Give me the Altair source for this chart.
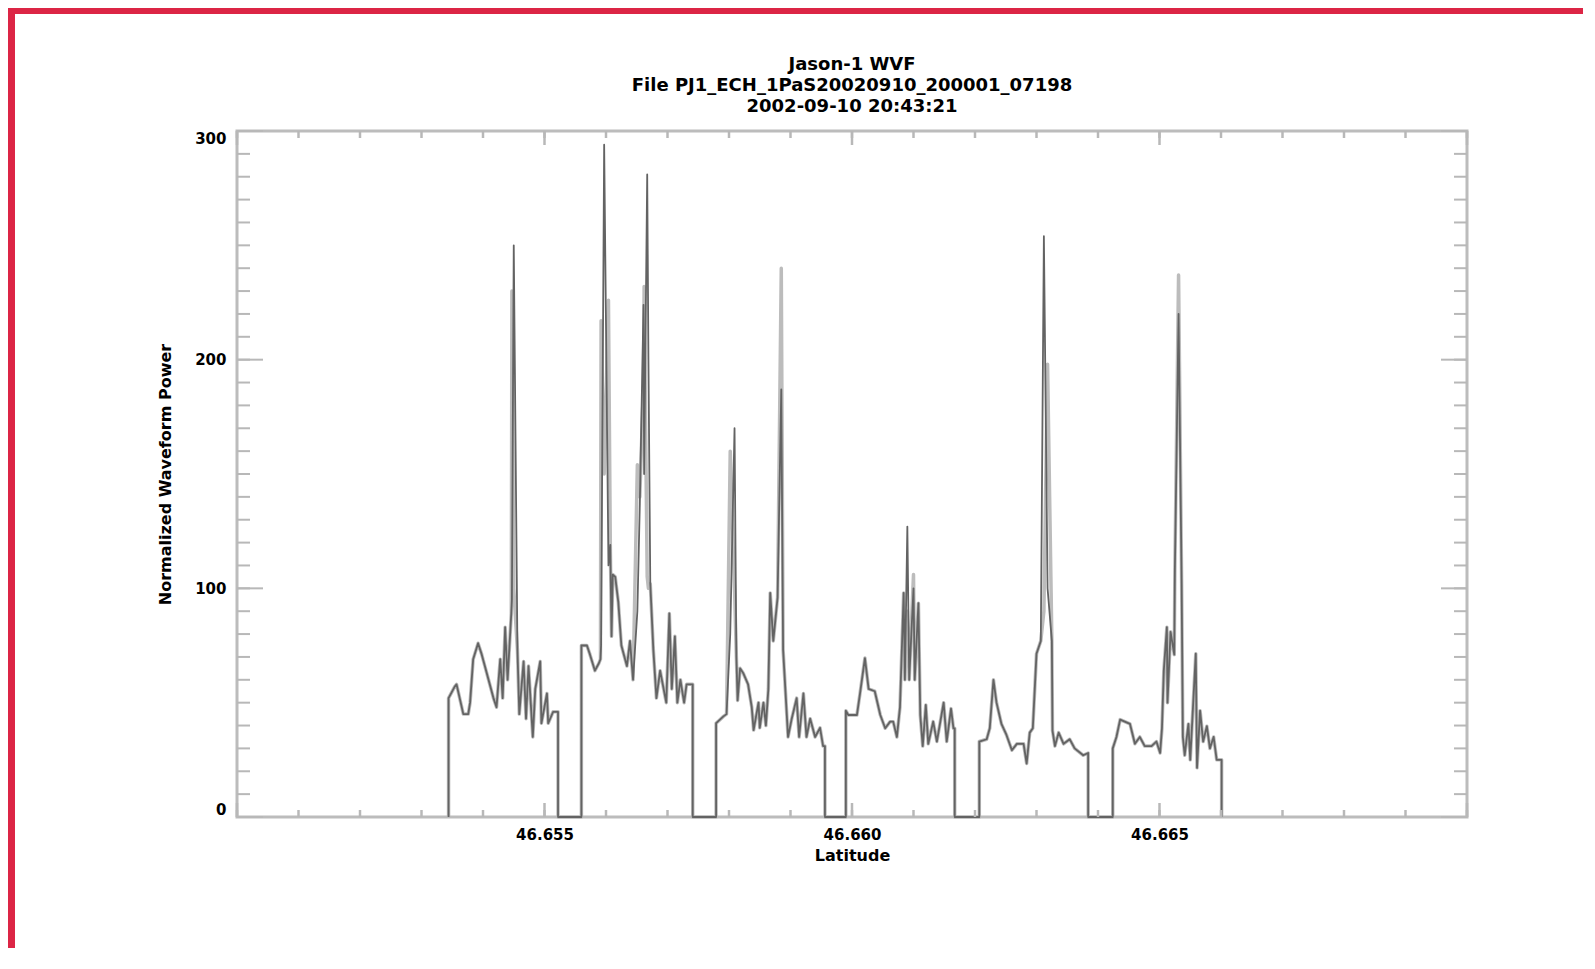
import altair as alt
import pandas as pd

# ---------------- data ----------------
seg1_lat = [46.65344, 46.65344, 46.65354, 46.65357, 46.65368, 46.65376, 46.65379, 46.65384,
            46.65392, 46.65398, 46.65403, 46.65409, 46.65417, 46.65422, 46.65428, 46.65432,
            46.65436, 46.65440, 46.65446, 46.65447, 46.65450, 46.65456, 46.65459, 46.65466,
            46.65470, 46.65474, 46.65481, 46.65485, 46.65493, 46.65495, 46.65504, 46.65506,
            46.65514, 46.65522, 46.65522]
seg1_light = [0, 52, 57, 58, 45, 45, 50, 69, 76, 71, 66, 60, 52, 48, 69, 52, 83, 60, 89, 230,
              100, 73, 45, 68, 43, 66, 35, 56, 68, 41, 54, 41, 46, 46, 0]
seg1_dark = [0, 52, 57, 58, 45, 45, 50, 69, 76, 71, 66, 60, 52, 48, 69, 52, 83, 60, 89, 95,
             250, 73, 45, 68, 43, 66, 35, 56, 68, 41, 54, 41, 46, 46, 0]

seg2_lat = [46.65560, 46.65560, 46.65569, 46.65574, 46.65582, 46.65588, 46.65591, 46.65592,
            46.65597, 46.65604, 46.65607, 46.65609, 46.65611, 46.65615, 46.65620, 46.65625,
            46.65634, 46.65639, 46.65644, 46.65651, 46.65655, 46.65661, 46.65662, 46.65667,
            46.65669, 46.65672, 46.65677, 46.65682, 46.65688, 46.65698, 46.65703, 46.65707,
            46.65712, 46.65716, 46.65721, 46.65727, 46.65731, 46.65739, 46.65741, 46.65741]
seg2_light = [0, 75, 75, 71, 64, 67, 69, 217, 150, 226, 119, 79, 106, 105, 94, 75, 66, 77, 60,
              154, 140, 190, 232, 105, 100, 102, 73, 52, 64, 50, 89, 56, 79, 50, 60, 50, 58,
              58, 58, 0]
seg2_dark = [0, 75, 75, 71, 64, 67, 69, 75, 294, 110, 119, 79, 106, 105, 94, 75, 66, 77, 60,
             90, 137, 224, 150, 281, 200, 102, 73, 52, 64, 50, 89, 56, 79, 50, 60, 50, 58,
             58, 58, 0]

seg3_lat = [46.65779, 46.65779, 46.65783, 46.65791, 46.65796, 46.65802, 46.65809, 46.65812,
            46.65814, 46.65818, 46.65823, 46.65831, 46.65837, 46.65840, 46.65848, 46.65850,
            46.65856, 46.65860, 46.65864, 46.65867, 46.65872, 46.65879, 46.65885, 46.65888,
            46.65896, 46.65902, 46.65910, 46.65914, 46.65921, 46.65926, 46.65932, 46.65940,
            46.65948, 46.65953, 46.65956, 46.65956]
seg3_light = [0, 41, 42, 44, 45, 160, 100, 70, 51, 65, 63, 58, 48, 38, 50, 39, 50, 40, 56, 98,
              77, 96, 240, 73, 35, 43, 52, 35, 54, 35, 43, 35, 39, 31, 31, 0]
seg3_dark = [0, 41, 42, 44, 45, 80, 170, 70, 51, 65, 63, 58, 48, 38, 50, 39, 50, 40, 56, 98,
             77, 96, 187, 73, 35, 43, 52, 35, 54, 35, 43, 35, 39, 31, 31, 0]

seg4_lat = [46.65990, 46.65990, 46.65994, 46.66008, 46.66013, 46.66021, 46.66027, 46.66037,
            46.66046, 46.66054, 46.66062, 46.66067, 46.66073, 46.66078, 46.66084, 46.66086,
            46.66090, 46.66093, 46.66100, 46.66102, 46.66108, 46.66111, 46.66115, 46.66120,
            46.66124, 46.66132, 46.66138, 46.66149, 46.66154, 46.66161, 46.66165, 46.66167,
            46.66167]
seg4_light = [0, 46.5, 44.6, 44.6, 54, 69.5, 56, 55, 44.6, 38.8, 41.7, 41.7, 35, 48, 98, 60,
              90, 60, 106, 60, 93.5, 44.6, 31, 49, 32, 41.7, 33, 50, 33, 47.4, 38.8, 38.8, 0]
seg4_dark = [0, 46.5, 44.6, 44.6, 54, 69.5, 56, 55, 44.6, 38.8, 41.7, 41.7, 35, 48, 98, 60,
             127, 60, 100, 60, 93.5, 44.6, 31, 49, 32, 41.7, 33, 50, 33, 47.4, 38.8, 38.8, 0]

seg5_lat = [46.66207, 46.66207, 46.66219, 46.66224, 46.66230, 46.66235, 46.66243, 46.66251,
            46.66260, 46.66268, 46.66279, 46.66284, 46.66289, 46.66294, 46.66300, 46.66307,
            46.66312, 46.66318, 46.66325, 46.66326, 46.66330, 46.66336, 46.66344, 46.66354,
            46.66362, 46.66376, 46.66384, 46.66384]
seg5_light = [0, 33, 34, 38.8, 60, 50, 40.7, 36, 29.2, 32, 32, 23.4, 36.9, 38.8, 71.4, 77, 90,
              198, 77, 37.8, 31, 36.9, 32, 34, 30, 27, 28, 0]
seg5_dark = [0, 33, 34, 38.8, 60, 50, 40.7, 36, 29.2, 32, 32, 23.4, 36.9, 38.8, 71.4, 77, 254,
             100, 77, 37.8, 31, 36.9, 32, 34, 30, 27, 28, 0]

seg6_lat = [46.66424, 46.66424, 46.66430, 46.66436, 46.66452, 46.66460, 46.66468, 46.66476,
            46.66487, 46.66495, 46.66501, 46.66504, 46.66507, 46.66512, 46.66513, 46.66518,
            46.66524, 46.66525, 46.66531, 46.66536, 46.66538, 46.66541, 46.66547, 46.66550,
            46.66559, 46.66561, 46.66566, 46.66571, 46.66577, 46.66582, 46.66588, 46.66593,
            46.66601, 46.66601]
seg6_light = [0, 30, 35, 42.6, 40.7, 32, 35, 31, 31, 33, 28, 38.8, 64, 83, 50, 81, 71, 108,
              237, 102, 35, 27, 40.7, 25, 71.4, 21.5, 46.5, 33, 39.7, 30, 35, 25, 25, 0]
seg6_dark = [0, 30, 35, 42.6, 40.7, 32, 35, 31, 31, 33, 28, 38.8, 64, 83, 50, 81, 71, 108,
             220, 102, 35, 27, 40.7, 25, 71.4, 21.5, 46.5, 33, 39.7, 30, 35, 25, 25, 0]

# axis tick positions and labels
x_minor_ticks = [46.650, 46.651, 46.652, 46.653, 46.654, 46.655, 46.656, 46.657, 46.658,
                 46.659, 46.660, 46.661, 46.662, 46.663, 46.664, 46.665, 46.666, 46.667,
                 46.668, 46.669, 46.670]
x_major_ticks = [46.650, 46.655, 46.660, 46.665, 46.670]
x_labels = [46.655, 46.660, 46.665]
y_minor_ticks = [0, 10, 20, 30, 40, 50, 60, 70, 80, 90, 100, 110, 120, 130, 140, 150, 160,
                 170, 180, 190, 200, 210, 220, 230, 240, 250, 260, 270, 280, 290, 300]
y_major_ticks = [0, 100, 200, 300]
title_lines = ["Jason-1 WVF", "File PJ1_ECH_1PaS20020910_200001_07198", "2002-09-10 20:43:21"]

# ---------------- build tables ----------------
lats, light, dark = [], [], []
for sl, sg, sd in [(seg1_lat, seg1_light, seg1_dark), (seg2_lat, seg2_light, seg2_dark),
                   (seg3_lat, seg3_light, seg3_dark), (seg4_lat, seg4_light, seg4_dark),
                   (seg5_lat, seg5_light, seg5_dark), (seg6_lat, seg6_light, seg6_dark)]:
    lats += sl
    light += sg
    dark += sd
light_df = pd.DataFrame({"lat": lats, "pow": light, "i": list(range(len(lats)))})
dark_df = pd.DataFrame({"lat": lats, "pow": dark, "i": list(range(len(lats)))})

W, H = 1230, 686
PAD_L, PAD_T = 229, 123
TOTAL_W, TOTAL_H = 1575, 940
FONT = "DejaVu Sans"
TICK = "#b8b8b8"
RED = "#dc2545"

xscale = alt.Scale(domain=[46.650, 46.670], nice=False, zero=False)
yscale = alt.Scale(domain=[0, 300], nice=False, zero=True)

x_axis = alt.Axis(values=x_labels, format=".3f", ticks=False, tickSize=0, domain=False,
                  grid=False, labelFont=FONT, labelFontSize=15, labelFontWeight="bold",
                  labelColor="black", labelPadding=10, labelFlush=False,
                  title="Latitude", titleFont=FONT, titleFontSize=16, titleFontWeight="bold",
                  titleColor="black", titlePadding=5)
y_axis = alt.Axis(values=y_major_ticks, format="d", ticks=False, tickSize=0, domain=False,
                  grid=False, labelFont=FONT, labelFontSize=15, labelFontWeight="bold",
                  labelColor="black", labelPadding=11, labelFlush=True,
                  title="Normalized Waveform Power", titleFont=FONT, titleFontSize=16,
                  titleFontWeight="bold", titleColor="black", titlePadding=21)

X = alt.X("lat:Q", scale=xscale, axis=x_axis)
Y = alt.Y("pow:Q", scale=yscale, axis=y_axis)

light_line = alt.Chart(light_df).mark_line(color="#bcbcbc", strokeWidth=3.5, strokeJoin="round").encode(
    x=X, y=Y, order=alt.Order("i:Q"))
dark_line = alt.Chart(dark_df).mark_line(color="#636363", strokeWidth=1.8, strokeJoin="round").encode(
    x=X, y=Y, order=alt.Order("i:Q"))

ymin_df = pd.DataFrame({"pow": y_minor_ticks})
ymaj_df = pd.DataFrame({"pow": y_major_ticks})
xmin_df = pd.DataFrame({"lat": x_minor_ticks})
xmaj_df = pd.DataFrame({"lat": x_major_ticks})


def yticks(df, x0, x1):
    return alt.Chart(df).mark_rule(color=TICK, strokeWidth=2).encode(
        y=Y, x=alt.value(x0), x2=alt.value(x1))


def xticks(df, y0, y1):
    return alt.Chart(df).mark_rule(color=TICK, strokeWidth=2.5).encode(
        x=X, y=alt.value(y0), y2=alt.value(y1))


ticks = [
    yticks(ymin_df, 0, 13), yticks(ymaj_df, 0, 26),
    yticks(ymin_df, W - 13, W), yticks(ymaj_df, W - 26, W),
    xticks(xmin_df, H, H - 7), xticks(xmaj_df, H, H - 14),
    xticks(xmin_df, 0, 7), xticks(xmaj_df, 0, 14),
]

band_df = pd.DataFrame({"k": [0]})
red_top = alt.Chart(band_df).mark_rect(color=RED).encode(
    x=alt.value(-PAD_L), x2=alt.value(TOTAL_W - PAD_L), y=alt.value(-PAD_T), y2=alt.value(-PAD_T + 6))
red_left = alt.Chart(band_df).mark_rect(color=RED).encode(
    x=alt.value(-PAD_L), x2=alt.value(-PAD_L + 7), y=alt.value(-PAD_T), y2=alt.value(TOTAL_H - PAD_T))

chart = alt.layer(light_line, dark_line, *ticks, red_top, red_left).properties(
    width=W, height=H,
    autosize=alt.AutoSizeParams(type="none"),
    padding={"left": PAD_L, "top": PAD_T, "right": TOTAL_W - PAD_L - W, "bottom": TOTAL_H - PAD_T - H},
    background="white",
    title=alt.Title(text=title_lines, font=FONT, fontSize=18, fontWeight="bold", color="black",
                    lineHeight=21, anchor="middle", frame="group", offset=-108),
).configure_view(stroke="#bcbcbc", strokeWidth=3)

chart.save("out.html", embed_options={"renderer": "svg", "actions": False})
